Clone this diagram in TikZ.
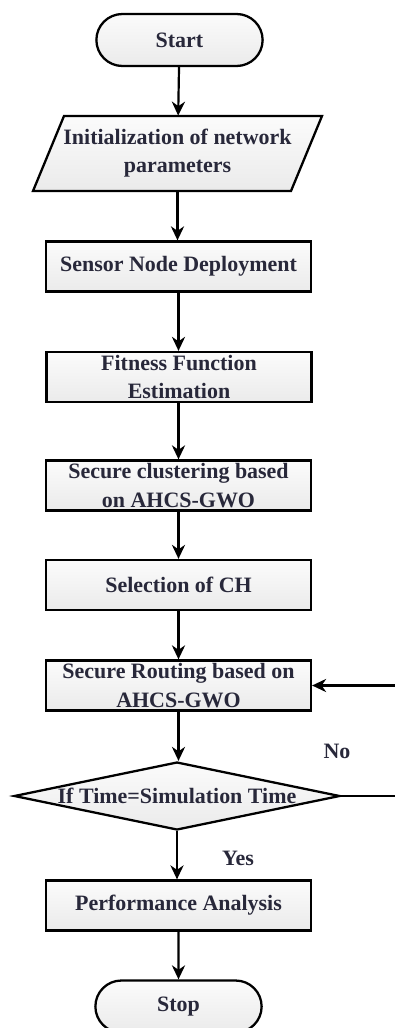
\documentclass[tikz,border=0pt]{standalone}
\usepackage{fontspec}
\setmainfont{Liberation Serif}
\usetikzlibrary{shapes.geometric,shapes.misc,arrows.meta}
\definecolor{txt}{RGB}{40,40,58}
\begin{document}
\begin{tikzpicture}[x=0.02cm,y=-0.02cm,
  lbl/.style={font=\bfseries\fontsize{12.5}{16}\selectfont, text=txt},
  boxfill/.style={top color=gray!3, bottom color=gray!16},
  procbox/.style={lbl, rectangle, draw, line width=1.3pt, boxfill, minimum width=5.3cm, minimum height=1cm, align=center, inner sep=1pt},
  termbox/.style={lbl, rounded rectangle, draw, line width=1.3pt, boxfill, minimum width=3.56cm, minimum height=1.04cm},
  flow/.style={-{Stealth[length=8pt,width=7.5pt]}, line width=1.25pt},
  ]
\useasboundingbox (0,0) rectangle (395,1028);

\node[termbox] (start) at (179.5,40) {Start};

\draw[line width=1.3pt, boxfill] (64,116) -- (322,116) -- (291,191) -- (33,191) -- cycle;
\node[lbl, align=center, minimum width=5.2cm, minimum height=1.5cm, inner sep=0pt] (init) at (177.5,153.5) {Initialization of network\\parameters};

\node[procbox] (deploy) at (178.5,266.5) {Sensor Node Deployment};
\node[procbox] (fit) at (179,377) {Fitness Function\\Estimation};
\node[procbox] (clus) at (178.5,485.5) {Secure clustering based\\on AHCS-GWO};
\node[procbox] (sel) at (178.5,585) {Selection of CH};
\node[procbox] (route) at (178.5,685.5) {Secure Routing based on\\AHCS-GWO};

\node[diamond, draw, line width=1.3pt, boxfill, minimum width=6.52cm, minimum height=1.36cm, inner sep=0pt] (dec) at (177,796) {};
\node[lbl] (dectext) at (dec.center) {If Time=Simulation Time};

\node[procbox] (perf) at (178.5,905.5) {Performance Analysis};
\node[termbox] (stop) at (178.5,1006.5) {Stop};

\node[lbl] (no) at (337,751) {No};
\node[lbl] (yes) at (238,858) {Yes};

\coordinate (loopx) at (402,796);

\draw[flow] (start) -- (init);
\draw[flow] (init) -- (init |- deploy.north);
\draw[flow] (deploy) -- (deploy |- fit.north);
\draw[flow] (fit.south -| deploy) -- (clus);
\draw[flow] (clus) -- (sel);
\draw[flow] (sel) -- (route);
\draw[flow] (route) -- (route |- dec.north);
\draw[flow] (dec) -- (dec |- perf.north);
\draw[flow] (perf) -- (stop);
\draw[flow] (dec.east) -- (loopx) |- (route.east);
\end{tikzpicture}
\end{document}
